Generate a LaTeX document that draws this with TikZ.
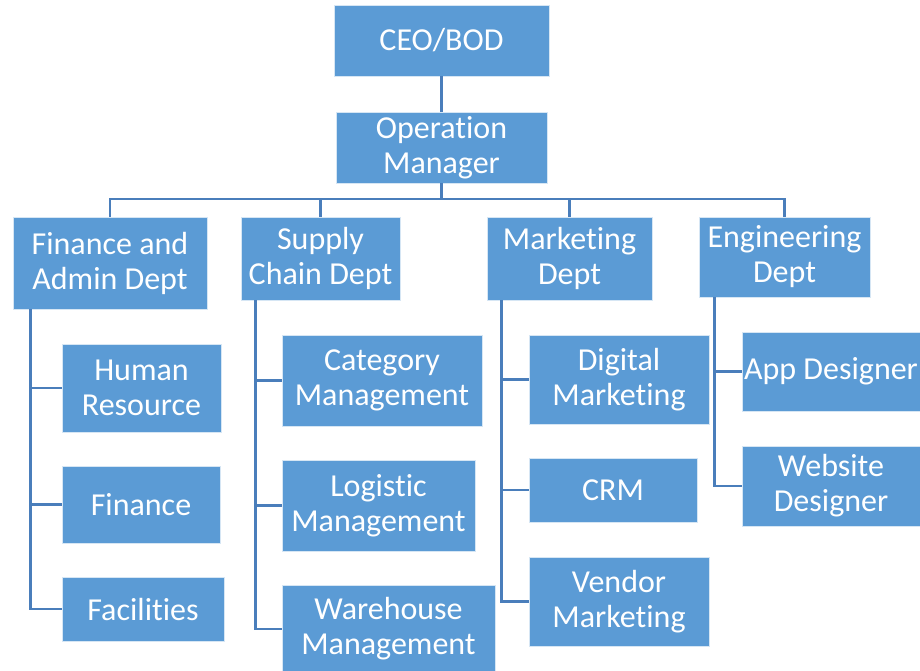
\documentclass[tikz,border=0pt]{standalone}
\usepackage{fontspec}
\setmainfont{Carlito}[RawFeature={-liga;-clig;-calt;-dlig}]
\usepackage{tikz}
\usetikzlibrary{positioning}
\definecolor{boxblue}{RGB}{91,155,213}
\definecolor{linkblue}{RGB}{74,126,187}

\begin{document}
\begin{tikzpicture}[x=1pt, y=-1pt]
	\tikzstyle{every node} = [rectangle, fill = boxblue, draw = white!75!boxblue, line width = 0.6pt, text = white, align = center, inner sep = 0pt, font = \fontsize{32}{35}\selectfont]
	\tikzstyle{link} = [draw = linkblue, line width = 2.8pt]
\useasboundingbox (0, 0) rectangle (920, 670);
% top of the chart
\node[minimum width = 215, minimum height = 71] (ceo) at (441.5, 40.5) {CEO/BOD};
\node[minimum width = 211, minimum height = 71] (ops) at (441.5, 147.5) {Operation\\Manager};
% departments
\node[minimum width = 194, minimum height = 92] (fin) at (110, 263) {Finance and\\Admin Dept};
\node[minimum width = 159, minimum height = 83] (sup) at (320.5, 258.5) {Supply\\Chain Dept};
\node[minimum width = 165, minimum height = 83] (mkt) at (569.5, 258.5) {Marketing\\Dept};
\node[minimum width = 171, minimum height = 80] (eng) at (784.5, 257) {Engineering\\Dept};
% finance and admin
\node[minimum width = 159, minimum height = 88] (hr) at (141.5, 388) {Human\\Resource};
\node[minimum width = 158, minimum height = 77] (acc) at (141, 504.5) {Finance};
\node[minimum width = 162, minimum height = 64] (fac) at (143, 609) {Facilities};
% supply chain
\node[minimum width = 200, minimum height = 91] (cat) at (382, 380.5) {Category\\Management};
\node[minimum width = 193, minimum height = 91] (log) at (378.5, 505.5) {Logistic\\Management};
\node[minimum width = 213, minimum height = 88] (wh) at (388.5, 629) {Warehouse\\Management};
% marketing
\node[minimum width = 180, minimum height = 89] (dig) at (619, 379.5) {Digital\\Marketing};
\node[minimum width = 168, minimum height = 64] (crm) at (613, 490) {CRM};
\node[minimum width = 180, minimum height = 89] (ven) at (619, 601.5) {Vendor\\Marketing};
% engineering
\node[minimum width = 178, minimum height = 79] (app) at (831, 371.5) {App Designer};
\node[minimum width = 178, minimum height = 80] (web) at (831, 486) {Website\\Designer};
\coordinate (bus) at (441.5, 199);
	\path[link] (ceo) -- (ops);
	\path[link] (ops) -- (bus);
	\path[link] (bus) -| (fin);
	\path[link] (bus) -| (sup);
	\path[link] (bus) -| (mkt);
	\path[link] (bus) -| (eng);
	\path[link] ([xshift = 18pt]fin.south west) |- (hr.west);
	\path[link] ([xshift = 18pt]fin.south west) |- (acc.west);
	\path[link] ([xshift = 18pt]fin.south west) |- (fac.west);
	\path[link] ([xshift = 15pt]sup.south west) |- (cat.west);
	\path[link] ([xshift = 15pt]sup.south west) |- (log.west);
	\path[link] ([xshift = 15pt]sup.south west) |- (wh.west);
	\path[link] ([xshift = 15pt]mkt.south west) |- (dig.west);
	\path[link] ([xshift = 15pt]mkt.south west) |- (crm.west);
	\path[link] ([xshift = 15pt]mkt.south west) |- (ven.west);
	\path[link] ([xshift = 16pt]eng.south west) |- (app.west);
	\path[link] ([xshift = 16pt]eng.south west) |- (web.west);
 	\end{tikzpicture}
\end{document}
